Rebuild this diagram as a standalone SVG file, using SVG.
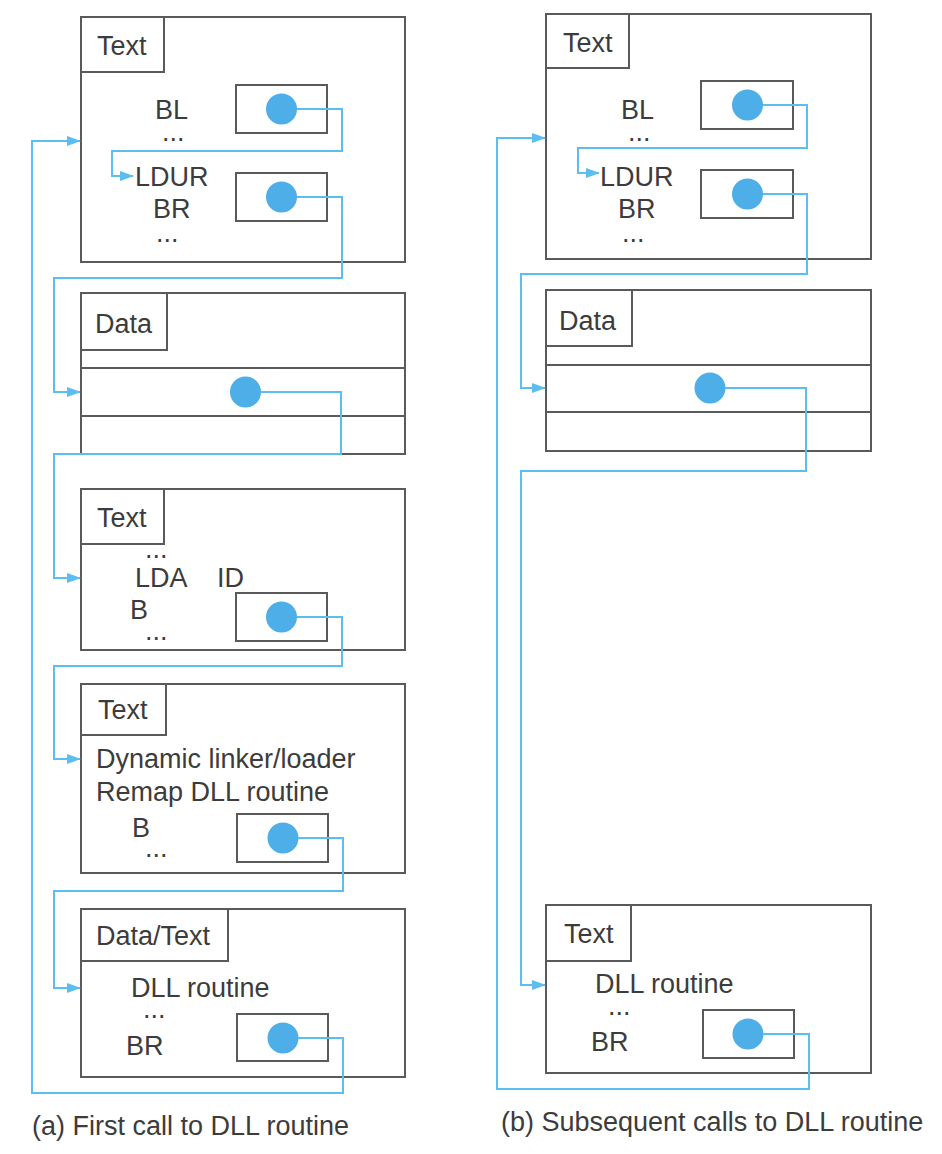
<svg xmlns="http://www.w3.org/2000/svg" width="942" height="1154" viewBox="0 0 942 1154">
<style>
.box{fill:none;stroke:#5a5a5a;stroke-width:2}
.dot{fill:#4daee8}
.t{font-family:"Liberation Sans",Arial,sans-serif;font-size:27px;fill:#3c3c3c}
.c{fill:none;stroke:#5cbdf0;stroke-width:2}
</style>
<defs>
<marker id="ah" markerUnits="userSpaceOnUse" markerWidth="14" markerHeight="10" refX="13" refY="5" orient="auto">
<path d="M0,0 L14,5 L0,10 Z" fill="#5cbdf0"/>
</marker>
</defs>
<rect width="942" height="1154" fill="#fff"/>

<g id="a-text1">
<rect class="box" x="81" y="17" width="324" height="245"/>
<rect class="box" x="81" y="17" width="83" height="55"/>
<text class="t" x="97" y="55">Text</text>
<text class="t" x="155" y="119">BL</text>
<text class="t" x="162" y="141">...</text>
<text class="t" x="135" y="186">LDUR</text>
<text class="t" x="153" y="218">BR</text>
<text class="t" x="156" y="242">...</text>
<rect class="box" x="236" y="85" width="91" height="48"/>
<circle class="dot" cx="281.5" cy="109" r="15.5"/>
<rect class="box" x="236" y="173" width="91" height="48"/>
<circle class="dot" cx="281.5" cy="197" r="15.5"/>
</g>

<g id="a-data">
<rect class="box" x="81" y="293" width="324" height="161"/>
<rect class="box" x="81" y="293" width="86" height="57"/>
<text class="t" x="95" y="333">Data</text>
<line class="box" x1="81" y1="368" x2="405" y2="368"/>
<line class="box" x1="81" y1="416" x2="405" y2="416"/>
<circle class="dot" cx="245.5" cy="392" r="15.5"/>
</g>

<g id="a-text2">
<rect class="box" x="81" y="489" width="324" height="161"/>
<rect class="box" x="81" y="489" width="83" height="55"/>
<text class="t" x="97" y="527">Text</text>
<text class="t" x="145" y="558">...</text>
<text class="t" x="135" y="587">LDA</text>
<text class="t" x="217" y="587">ID</text>
<text class="t" x="130" y="619">B</text>
<text class="t" x="145" y="640">...</text>
<rect class="box" x="236" y="593" width="91" height="48"/>
<circle class="dot" cx="281.5" cy="617" r="15.5"/>
</g>

<g id="a-text3">
<rect class="box" x="81" y="684" width="324" height="189"/>
<rect class="box" x="81" y="684" width="85" height="51"/>
<text class="t" x="98" y="719">Text</text>
<text class="t" x="96" y="768">Dynamic linker/loader</text>
<text class="t" x="96" y="801">Remap DLL routine</text>
<text class="t" x="132" y="837">B</text>
<text class="t" x="145" y="857">...</text>
<rect class="box" x="237" y="814" width="91" height="48"/>
<circle class="dot" cx="283" cy="838" r="15.5"/>
</g>

<g id="a-datatext">
<rect class="box" x="81" y="909" width="324" height="168"/>
<rect class="box" x="81" y="909" width="147" height="52"/>
<text class="t" x="96" y="945">Data/Text</text>
<text class="t" x="131" y="997">DLL routine</text>
<text class="t" x="143" y="1018">...</text>
<text class="t" x="126" y="1055">BR</text>
<rect class="box" x="237" y="1014" width="91" height="47"/>
<circle class="dot" cx="283" cy="1038" r="15.5"/>
</g>

<g id="b-text1">
<rect class="box" x="546" y="14" width="325" height="245"/>
<rect class="box" x="546" y="14" width="83" height="54"/>
<text class="t" x="563" y="52">Text</text>
<text class="t" x="621" y="119">BL</text>
<text class="t" x="628" y="141">...</text>
<text class="t" x="600" y="186">LDUR</text>
<text class="t" x="618" y="218">BR</text>
<text class="t" x="622" y="242">...</text>
<rect class="box" x="701" y="81" width="92" height="48"/>
<circle class="dot" cx="747.5" cy="105" r="15.5"/>
<rect class="box" x="701" y="170" width="92" height="48"/>
<circle class="dot" cx="747.5" cy="194" r="15.5"/>
</g>

<g id="b-data">
<rect class="box" x="546" y="290" width="325" height="161"/>
<rect class="box" x="546" y="290" width="86" height="56"/>
<text class="t" x="559" y="330">Data</text>
<line class="box" x1="546" y1="365" x2="871" y2="365"/>
<line class="box" x1="546" y1="412" x2="871" y2="412"/>
<circle class="dot" cx="710" cy="388" r="15.5"/>
</g>

<g id="b-text2">
<rect class="box" x="546" y="905" width="325" height="168"/>
<rect class="box" x="546" y="905" width="85" height="56"/>
<text class="t" x="564" y="943">Text</text>
<text class="t" x="595" y="993">DLL routine</text>
<text class="t" x="608" y="1015">...</text>
<text class="t" x="591" y="1051">BR</text>
<rect class="box" x="703" y="1010" width="91" height="48"/>
<circle class="dot" cx="748" cy="1034" r="15.5"/>
</g>

<g id="connectors">
<path class="c" marker-end="url(#ah)" d="M297,109 H342 V151 H112 V176 H133"/>
<path class="c" marker-end="url(#ah)" d="M297,197 H342 V278 H54 V392 H80"/>
<path class="c" marker-end="url(#ah)" d="M261,392 H341 V454 H54 V578 H80"/>
<path class="c" marker-end="url(#ah)" d="M297,617 H342 V666 H54 V759 H80"/>
<path class="c" marker-end="url(#ah)" d="M298,838 H343 V891 H54 V988 H80"/>
<path class="c" marker-end="url(#ah)" d="M298,1038 H343 V1093 H32 V141 H80"/>
<path class="c" marker-end="url(#ah)" d="M763,105 H807 V148 H578 V173 H599"/>
<path class="c" marker-end="url(#ah)" d="M763,194 H807 V274 H521 V388 H545"/>
<path class="c" marker-end="url(#ah)" d="M725,388 H806 V471 H521 V985 H545"/>
<path class="c" marker-end="url(#ah)" d="M763,1034 H809 V1089 H497 V138 H545"/>
</g>

<g id="captions">
<text class="t" x="32" y="1135">(a) First call to DLL routine</text>
<text class="t" x="501" y="1131">(b) Subsequent calls to DLL routine</text>
</g>
</svg>
